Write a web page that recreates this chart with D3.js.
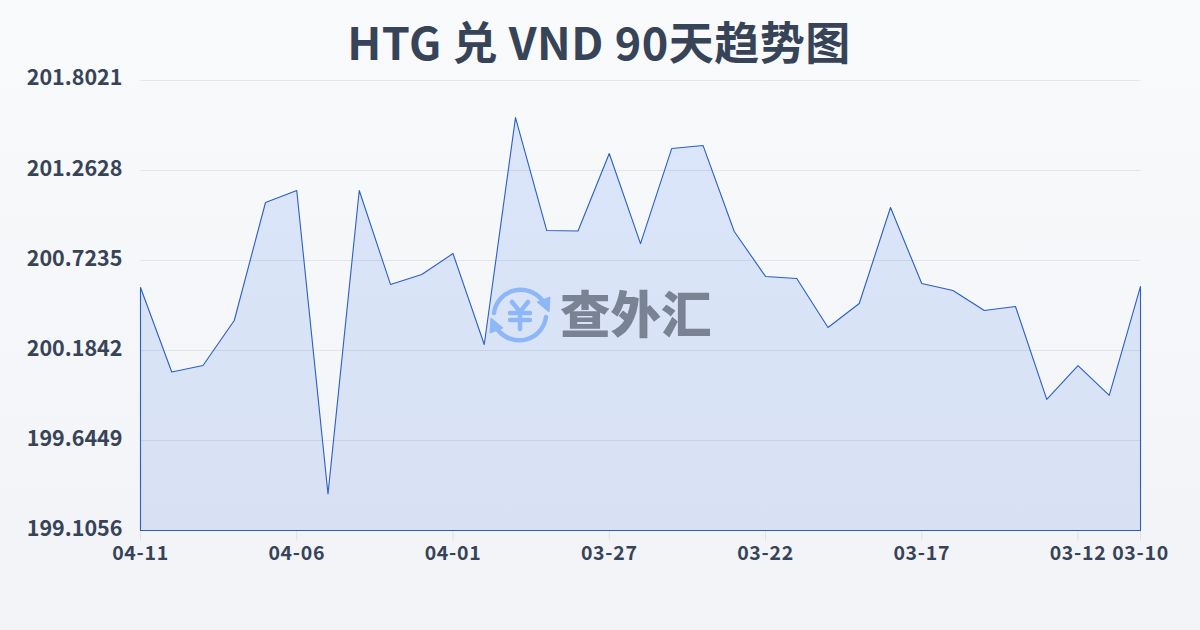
<!DOCTYPE html>
<html><head><meta charset="utf-8">
<script src="https://cdnjs.cloudflare.com/ajax/libs/d3/7.8.5/d3.min.js"></script>
<style>html,body{margin:0;padding:0;overflow:hidden}svg{display:block}
text{font-family:"Noto Sans CJK SC","Noto Sans",sans-serif}</style></head><body>
<script>
const title = "HTG 兑 VND 90天趋势图";
const dates = ["04-11","04-10","04-09","04-08","04-07","04-06","04-05","04-04","04-03","04-02","04-01","03-31","03-30","03-29","03-28","03-27","03-26","03-25","03-24","03-23","03-22","03-21","03-20","03-19","03-18","03-17","03-16","03-15","03-14","03-13","03-12","03-11","03-10"];
const rates = [200.562,200.055,200.094,200.364,201.071,201.143,199.324,201.143,200.580,200.640,200.765,200.220,201.580,200.903,200.900,201.365,200.825,201.395,201.413,200.897,200.628,200.616,200.322,200.466,201.041,200.586,200.544,200.424,200.448,199.891,200.094,199.915,200.568];
const yTicks = [199.1056,199.6449,200.1842,200.7235,201.2628,201.8021];
const xTicks = ["04-11","04-06","04-01","03-27","03-22","03-17","03-12","03-10"];
const brand = "查外汇";

const W=1200,H=630,L=140.5,R=1140.5,T=80.5,B=530.5;
const svg=d3.select("body").append("svg").attr("width",W).attr("height",H);
const defs=svg.append("defs");
const bg=defs.append("linearGradient").attr("id","bg").attr("x1",0).attr("y1",0).attr("x2",0).attr("y2",1);
bg.append("stop").attr("offset",0).attr("stop-color","#f8fafc");
bg.append("stop").attr("offset",1).attr("stop-color","#f1f3f6");
const ag=defs.append("linearGradient").attr("id","ag").attr("gradientUnits","userSpaceOnUse").attr("x1",0).attr("y1",T).attr("x2",0).attr("y2",B);
ag.append("stop").attr("offset",0).attr("stop-color","#dbe6fa");
ag.append("stop").attr("offset",1).attr("stop-color","#d8e1f4");
svg.append("rect").attr("width",W).attr("height",H).attr("fill","url(#bg)");

const x=d3.scalePoint().domain(dates).range([L,R]);
const y=d3.scaleLinear().domain([yTicks[0],yTicks[yTicks.length-1]]).range([B,T]);

svg.append("text").attr("x",599).attr("y",60).attr("text-anchor","middle")
  .attr("font-size",45).attr("font-weight",700).attr("letter-spacing",0.5).attr("fill","#374357").text(title);

const area=d3.area().x(d=>x(d.d)).y0(B).y1(d=>y(d.v));
const data=dates.map((d,i)=>({d,v:rates[i]}));
svg.append("path").datum(data).attr("d",area).attr("fill","url(#ag)").attr("stroke","#2a5fc4").attr("stroke-width",1.1).attr("stroke-linejoin","round");

const gy=svg.append("g").attr("transform",`translate(${L},0)`)
  .call(d3.axisLeft(y).offset(0).tickValues(yTicks).tickSize(-(R-L)).tickFormat(d3.format(".4f")));
gy.select(".domain").remove();
gy.selectAll(".tick line").attr("stroke","#374357").attr("stroke-opacity",0.1);
gy.selectAll(".tick text").attr("x",-18).attr("dy",0).attr("dominant-baseline","auto")
  .attr("font-size",21.5).attr("font-weight",700).attr("fill","#374357").attr("font-family",null)
  .attr("y",(d,i)=>[5,5,5,5,5,4][i]);

const gx=svg.append("g").attr("transform",`translate(0,${B})`)
  .call(d3.axisBottom(x).offset(0).tickValues(xTicks).tickSize(10).tickPadding(8));
gx.select(".domain").remove();
gx.selectAll(".tick line").attr("stroke","#374357").attr("stroke-opacity",0.1);
gx.selectAll(".tick text").attr("font-size",19.5).attr("font-weight",700).attr("letter-spacing",0.7).attr("fill","#374357").attr("font-family",null).attr("dy","0.6em");

// watermark
const m=svg.append("g").attr("transform","translate(520,315)");
const blue="#8db7f7";
m.append("path").attr("d","M-26,-2 A27,27 0 0 1 22,-15").attr("fill","none").attr("stroke",blue).attr("stroke-width",4.5).attr("stroke-linecap","round");
m.append("path").attr("d","M26,2 A27,27 0 0 1 -22,15").attr("fill","none").attr("stroke",blue).attr("stroke-width",4.5).attr("stroke-linecap","round");
m.append("path").attr("d","M17,-13 L30,-18 L29,-3 Z").attr("fill",blue).attr("stroke",blue).attr("stroke-linejoin","round");
m.append("path").attr("d","M-17,13 L-30,18 L-29,3 Z").attr("fill",blue).attr("stroke",blue).attr("stroke-linejoin","round");
m.append("path").attr("d","M-8,-13 L0,-3 L8,-13 M-10,-2 H10 M-10,5 H10 M0,-3 V14").attr("fill","none").attr("stroke",blue).attr("stroke-width",4.5).attr("stroke-linecap","round");
svg.append("text").attr("x",560).attr("y",333).attr("font-size",50.5).attr("font-weight",900).attr("fill","#7a8394").text(brand);
</script></body></html>
